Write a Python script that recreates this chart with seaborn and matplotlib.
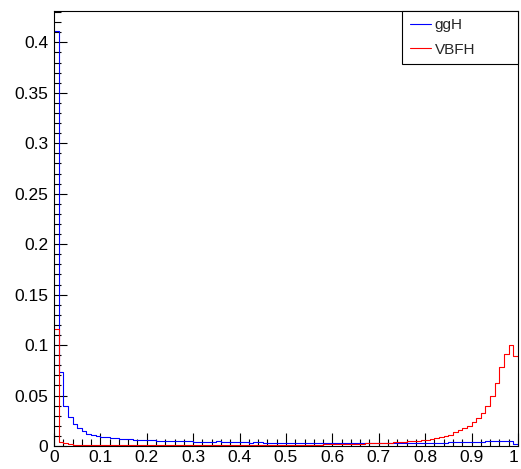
import numpy as np
import pandas as pd
import matplotlib
matplotlib.use("Agg")
import matplotlib.pyplot as plt
import seaborn as sns
from matplotlib.lines import Line2D
from matplotlib.ticker import FixedLocator, MultipleLocator, FuncFormatter

# ---- data: 100 bins on [0, 1] ----
n_bins = 100
bin_edges = np.linspace(0.0, 1.0, n_bins + 1)
bin_centers = 0.5 * (bin_edges[:-1] + bin_edges[1:])

ggH = [
    0.411, 0.073, 0.040, 0.029, 0.022, 0.0175, 0.015, 0.012, 0.011, 0.0098,
    0.0092, 0.0086, 0.0080, 0.0075, 0.0072, 0.0070, 0.0066, 0.0064, 0.0060, 0.0058,
    0.0056, 0.0055, 0.0053, 0.0052, 0.0050, 0.0049, 0.0048, 0.0047, 0.0046, 0.0045,
    0.0044, 0.0044, 0.0042, 0.0042, 0.0041, 0.0045, 0.0040, 0.0039, 0.0038, 0.0037,
    0.0036, 0.0035, 0.0034, 0.0040, 0.0035, 0.0034, 0.0033, 0.0033, 0.0032, 0.0032,
    0.0031, 0.0031, 0.0030, 0.0030, 0.0030, 0.0029, 0.0029, 0.0029, 0.0028, 0.0028,
    0.0028, 0.0028, 0.0027, 0.0027, 0.0027, 0.0027, 0.0026, 0.0026, 0.0026, 0.0026,
    0.0026, 0.0026, 0.0026, 0.0027, 0.0027, 0.0028, 0.0030, 0.0030, 0.0030, 0.0031,
    0.0031, 0.0032, 0.0032, 0.0033, 0.0034, 0.0035, 0.0037, 0.0038, 0.0040, 0.0041,
    0.0042, 0.0043, 0.0044, 0.0045, 0.0046, 0.0048, 0.0050, 0.0048, 0.0046, 0.0022,
]

VBFH = [
    0.116, 0.0035, 0.0025, 0.0018, 0.0014, 0.0012, 0.0010, 0.0010, 0.0009, 0.0009,
    0.0009, 0.0008, 0.0008, 0.0008, 0.0008, 0.0008, 0.0008, 0.0008, 0.0008, 0.0008,
    0.0008, 0.0008, 0.0008, 0.0008, 0.0009, 0.0009, 0.0009, 0.0009, 0.0009, 0.0009,
    0.0009, 0.0009, 0.0010, 0.0010, 0.0010, 0.0010, 0.0010, 0.0010, 0.0011, 0.0011,
    0.0011, 0.0011, 0.0011, 0.0012, 0.0012, 0.0012, 0.0012, 0.0012, 0.0013, 0.0013,
    0.0013, 0.0013, 0.0014, 0.0014, 0.0014, 0.0015, 0.0015, 0.0015, 0.0016, 0.0016,
    0.0016, 0.0017, 0.0018, 0.0019, 0.0020, 0.0022, 0.0024, 0.0026, 0.0028, 0.0030,
    0.0030, 0.0031, 0.0033, 0.0035, 0.0038, 0.0040, 0.0045, 0.0048, 0.0052, 0.0056,
    0.0060, 0.0066, 0.0075, 0.0086, 0.0099, 0.0110, 0.0135, 0.0158, 0.0175, 0.0200,
    0.0238, 0.0274, 0.0324, 0.0400, 0.0500, 0.0627, 0.0780, 0.0910, 0.0997, 0.0894,
]

labels = ["ggH", "VBFH"]
colors = ["#0000ff", "#ff0000"]
x_ticks = [0.0, 0.1, 0.2, 0.3, 0.4, 0.5, 0.6, 0.7, 0.8, 0.9, 1.0]
y_ticks = [0.0, 0.05, 0.1, 0.15, 0.2, 0.25, 0.3, 0.35, 0.4]

df = pd.DataFrame({
    "x": np.concatenate([bin_centers, bin_centers]),
    "w": np.concatenate([ggH, VBFH]),
    "sample": ["ggH"] * len(ggH) + ["VBFH"] * len(VBFH),
})

sns.set_theme(style="white")
plt.rcParams["font.family"] = ["Liberation Sans", "DejaVu Sans"]

fig = plt.figure(figsize=(5.21, 4.69), dpi=100)
ax = fig.add_axes([0.1036, 0.049, 0.8906, 0.9286])

for lab, col in zip(labels, colors):
    sub = df[df["sample"] == lab]
    sns.histplot(data=sub, x="x", weights="w", bins=n_bins, binrange=(0.0, 1.0),
                 element="step", fill=False, color=col, linewidth=0.8, ax=ax)

ax.set_xlim(0, 1)
ax.set_ylim(0, 0.4316)
ax.set_xlabel("")
ax.set_ylabel("")

ax.xaxis.set_major_locator(FixedLocator(x_ticks))
ax.xaxis.set_minor_locator(MultipleLocator(0.02))
ax.yaxis.set_major_locator(FixedLocator(y_ticks))
ax.yaxis.set_minor_locator(MultipleLocator(0.01))
fmt = FuncFormatter(lambda v, p: "%g" % round(v, 3))
ax.xaxis.set_major_formatter(fmt)
ax.yaxis.set_major_formatter(fmt)

ax.tick_params(axis="both", which="major", direction="in", length=9.4, width=0.8,
               color="black", labelsize=12.5, labelcolor="black")
ax.tick_params(axis="both", which="minor", direction="in", length=5, width=0.8,
               color="black")
ax.tick_params(axis="x", which="both", bottom=True, top=False, pad=3)
ax.tick_params(axis="y", which="both", left=True, right=False, pad=4)

# keep the last x label inside the canvas, as the reference does
ax.xaxis.get_major_ticks()[-1].label1.set_horizontalalignment("right")
ax.xaxis.get_major_ticks()[-1].label1.set_x(1.0)

for s in ax.spines.values():
    s.set_color("black")
    s.set_linewidth(0.8)
    s.set_visible(True)

handles = [Line2D([], [], color=c, linewidth=0.8) for c in colors]
leg = ax.legend(handles, labels, loc="upper left",
                bbox_to_anchor=(0.75, 0.877, 0.25, 0.123), mode="expand",
                borderaxespad=0, fontsize=11, frameon=True, fancybox=False,
                framealpha=1, edgecolor="black", borderpad=0.5,
                labelspacing=0.7, handlelength=1.4, handletextpad=0.25)
leg.get_frame().set_linewidth(0.8)

fig.savefig("out.png", dpi=100, facecolor="white")
